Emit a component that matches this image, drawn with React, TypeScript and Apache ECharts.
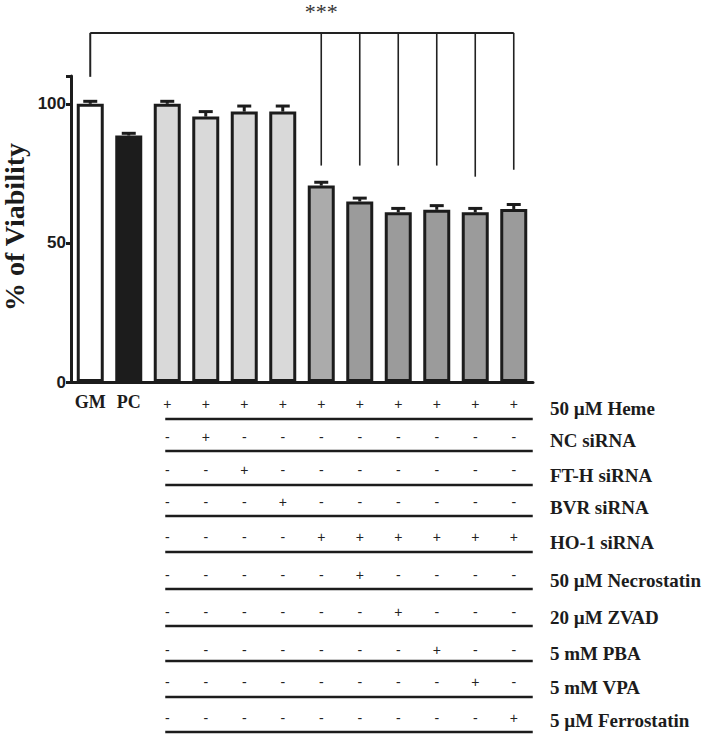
import React, { useEffect, useRef } from "react";
import * as echarts from "echarts";

// ---- data ----
const categories = ["GM", "PC", "Heme", "NC", "FT-H", "BVR", "HO-1", "HO-1+Nec", "HO-1+ZVAD", "HO-1+PBA", "HO-1+VPA", "HO-1+Ferro"];
const axisLabels = ["GM", "PC", "", "", "", "", "", "", "", "", "", ""];
const viability = [100, 88.6, 100, 95.4, 97.2, 97.2, 70.6, 64.9, 61.0, 61.9, 61.0, 62.2];
const sem = [0.9, 0.8, 0.9, 1.8, 2.0, 2.0, 1.2, 1.2, 1.4, 1.5, 1.4, 1.6];
const barColors = ["#ffffff", "#1c1c1c", "#d9d9d9", "#d9d9d9", "#d9d9d9", "#d9d9d9", "#ababab", "#9b9b9b", "#9b9b9b", "#9b9b9b", "#9b9b9b", "#9b9b9b"];
const yTicks = [0, 50, 100];

const rowLabels = ["50 \u00b5M Heme", "NC siRNA", "FT-H siRNA", "BVR siRNA", "HO-1 siRNA", "50 \u00b5M Necrostatin", "20 \u00b5M ZVAD", "5 mM PBA", "5 mM VPA", "5 \u00b5M Ferrostatin"];
// treatment table, columns 3..12
const heme = ["+", "+", "+", "+", "+", "+", "+", "+", "+", "+"];
const ncSi = ["-", "+", "-", "-", "-", "-", "-", "-", "-", "-"];
const ftSi = ["-", "-", "+", "-", "-", "-", "-", "-", "-", "-"];
const bvrSi = ["-", "-", "-", "+", "-", "-", "-", "-", "-", "-"];
const hoSi = ["-", "-", "-", "-", "+", "+", "+", "+", "+", "+"];
const necro = ["-", "-", "-", "-", "-", "+", "-", "-", "-", "-"];
const zvad = ["-", "-", "-", "-", "-", "-", "+", "-", "-", "-"];
const pba = ["-", "-", "-", "-", "-", "-", "-", "+", "-", "-"];
const vpa = ["-", "-", "-", "-", "-", "-", "-", "-", "+", "-"];
const ferro = ["-", "-", "-", "-", "-", "-", "-", "-", "-", "+"];
const tableRows = [heme, ncSi, ftSi, bvrSi, hoSi, necro, zvad, pba, vpa, ferro];
const tableStartIndex = 2;

// significance bracket (values on the y scale)
const bracketTop = 125.5;
const bracketStart = { cat: 0, bottom: 109.7 };
const bracketDrops = [
  { cat: 6, bottom: 77.8 },
  { cat: 7, bottom: 77.8 },
  { cat: 8, bottom: 77.8 },
  { cat: 9, bottom: 77.8 },
  { cat: 10, bottom: 73.8 },
  { cat: 11, bottom: 76.3 },
];
const sigLabel = "***";

// layout (pixels)
const rowY = [404, 437, 470, 502, 537, 575, 612, 650, 682, 718];
const labelY = [408, 440, 475, 507, 542, 580, 617, 653, 687, 720];
const sepY = [419, 451, 485, 516, 552, 589, 626, 661, 697, 732];

const INK = "#1c1c1c";
const SERIF = "'Liberation Serif', 'Times New Roman', serif";
const SANS = "'Liberation Sans', Arial, sans-serif";

export default function App() {
  const ref = useRef<HTMLDivElement>(null);
  useEffect(() => {
    document.body.style.margin = "0";
    const chart = echarts.init(ref.current!, null, { renderer: "svg" });
    chart.setOption({
      animation: false,
      backgroundColor: "#ffffff",
      grid: { left: 71, right: 175, top: 76, bottom: 354 },
      xAxis: {
        type: "category",
        data: categories,
        axisLine: { lineStyle: { color: INK, width: 3 } },
        axisTick: { alignWithLabel: true, length: 5, lineStyle: { color: INK, width: 3 } },
        axisLabel: {
          formatter: (_v: string, i: number) => axisLabels[i],
          interval: 0,
          margin: 11,
          color: INK,
          fontFamily: SERIF,
          fontWeight: "bold",
          fontSize: 18,
        },
      },
      yAxis: {
        type: "value",
        min: 0,
        max: 110,
        interval: 50,
        splitLine: { show: false },
        axisLine: { show: true, lineStyle: { color: INK, width: 3 } },
        axisTick: { show: true, length: 5, lineStyle: { color: INK, width: 3 } },
        axisLabel: {
          color: INK,
          fontFamily: SANS,
          fontWeight: "bold",
          fontSize: 17,
          margin: 5,
          formatter: (v: number) => (yTicks.includes(v) ? String(v) : ""),
        },
      },
      series: [
        {
          type: "bar",
          barWidth: 27,
          data: viability.map((v, i) => ({
            value: v,
            itemStyle: { color: barColors[i], borderColor: INK, borderWidth: 3 },
          })),
          z: 2,
        },
        {
          type: "custom",
          z: 3,
          data: viability.map((v, i) => [i, v, sem[i]]),
          renderItem: (params: any, api: any) => {
            const x = api.value(0);
            const v = api.value(1);
            const e = api.value(2);
            const base = api.coord([x, v]);
            const top = api.coord([x, v + e]);
            const style = { stroke: INK, lineWidth: 3 };
            return {
              type: "group",
              children: [
                { type: "line", shape: { x1: base[0], y1: base[1], x2: top[0], y2: top[1] }, style },
                { type: "line", shape: { x1: top[0] - 7, y1: top[1], x2: top[0] + 7, y2: top[1] }, style },
              ],
            };
          },
        },
      ],
    });

    const px = (cat: number, val: number) =>
      chart.convertToPixel({ xAxisIndex: 0, yAxisIndex: 0 }, [cat, val]) as number[];

    const graphics: any[] = [];
    // y-axis title
    const mid = px(0, 55);
    graphics.push({
      type: "text",
      x: 14,
      y: mid[1] - 2,
      rotation: Math.PI / 2,
      style: {
        text: "% of Viability",
        fontFamily: SERIF,
        fontWeight: "bold",
        fontSize: 28,
        fill: INK,
        align: "center",
        verticalAlign: "middle",
      },
    });
    // significance bracket
    const lastDrop = bracketDrops[bracketDrops.length - 1];
    const left = px(bracketStart.cat, bracketTop);
    const right = px(lastDrop.cat, bracketTop);
    graphics.push({
      type: "line",
      shape: { x1: left[0], y1: left[1], x2: right[0], y2: right[1] },
      style: { stroke: "#222", lineWidth: 2 },
    });
    const sb = px(bracketStart.cat, bracketStart.bottom);
    graphics.push({
      type: "line",
      shape: { x1: left[0], y1: left[1], x2: sb[0], y2: sb[1] },
      style: { stroke: "#222", lineWidth: 2 },
    });
    bracketDrops.forEach((d) => {
      const t = px(d.cat, bracketTop);
      const b = px(d.cat, d.bottom);
      graphics.push({
        type: "line",
        shape: { x1: t[0], y1: t[1], x2: b[0], y2: b[1] },
        style: { stroke: "#222", lineWidth: 1.6 },
      });
    });
    const star = px(5.65, bracketTop);
    graphics.push({
      type: "text",
      x: star[0],
      y: 0,
      style: { text: sigLabel, fontFamily: SERIF, fontSize: 22, fill: "#333", align: "center", verticalAlign: "top" },
    });

    // treatment table
    const firstX = px(tableStartIndex, 0)[0];
    const lastX = px(categories.length - 1, 0)[0];
    tableRows.forEach((row, r) => {
      row.forEach((s, c) => {
        const x = px(tableStartIndex + c, 0)[0];
        graphics.push({
          type: "text",
          x,
          y: rowY[r],
          style: { text: s, fontFamily: SANS, fontSize: 14, fill: "#222", align: "center", verticalAlign: "middle" },
        });
      });
      graphics.push({
        type: "line",
        shape: { x1: firstX - 2, y1: sepY[r], x2: lastX + 19, y2: sepY[r] },
        style: { stroke: INK, lineWidth: 2.5 },
      });
      graphics.push({
        type: "text",
        x: 550,
        y: labelY[r],
        style: {
          text: rowLabels[r],
          fontFamily: SERIF,
          fontWeight: "bold",
          fontSize: 19,
          fill: INK,
          align: "left",
          verticalAlign: "middle",
        },
      });
    });

    chart.setOption({ graphic: graphics });
    return () => chart.dispose();
  }, []);
  return <div ref={ref} style={{ width: 708, height: 736 }} />;
}
